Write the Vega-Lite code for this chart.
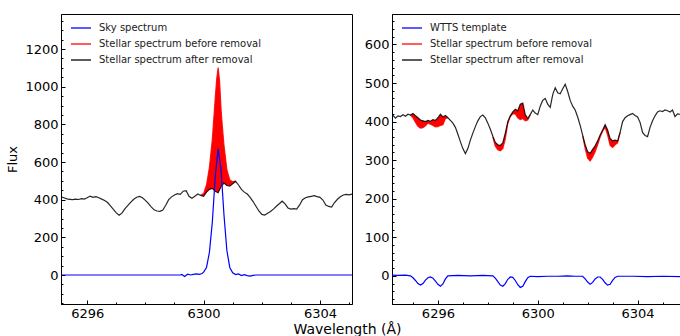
{
  "$schema": "https://vega.github.io/schema/vega-lite/v6.json",
  "padding": {"left": 6, "top": 13, "right": 1, "bottom": 0},
  "autosize": {"type": "pad"},
  "background": "white",
  "config": {
    "font": "DejaVu Sans",
    "view": {"stroke": "black", "strokeWidth": 1},
    "axis": {"grid": false, "domainColor": "black", "tickColor": "black", "labelFontSize": 13, "titleFontSize": 13, "labelColor": "black", "titleColor": "black", "titleFontWeight": "normal", "labelFont": "DejaVu Sans", "titleFont": "DejaVu Sans", "labelFlush": false, "labelOverlap": false, "tickWidth": 1},
    "legend": {"orient": "none", "legendX": 9, "legendY": 3, "symbolType": "stroke", "symbolSize": 400, "symbolStrokeWidth": 1.5, "labelFontSize": 10, "labelFont": "DejaVu Sans", "labelColor": "#222", "labelOffset": 7, "labelLimit": 400, "rowPadding": -1.5, "padding": 0, "title": null}
  },
  "title": {"text": "Wavelength (Å)", "orient": "bottom", "anchor": "middle", "fontSize": 14, "fontWeight": "normal", "offset": 0, "dx": 4, "font": "DejaVu Sans", "color": "black"},
  "datasets": {
    "star": [
      {"wl": 6294.1, "f": 424}, {"wl": 6294.2, "f": 416}, {"wl": 6294.3, "f": 409}, {"wl": 6294.4, "f": 415}, {"wl": 6294.5, "f": 413},
      {"wl": 6294.6, "f": 418}, {"wl": 6294.7, "f": 414}, {"wl": 6294.8, "f": 419}, {"wl": 6294.9, "f": 417}, {"wl": 6295.0, "f": 421},
      {"wl": 6295.1, "f": 415}, {"wl": 6295.2, "f": 410}, {"wl": 6295.3, "f": 404}, {"wl": 6295.4, "f": 402}, {"wl": 6295.5, "f": 400},
      {"wl": 6295.6, "f": 403}, {"wl": 6295.7, "f": 401}, {"wl": 6295.8, "f": 405}, {"wl": 6295.9, "f": 403}, {"wl": 6296.0, "f": 410},
      {"wl": 6296.1, "f": 419}, {"wl": 6296.2, "f": 412}, {"wl": 6296.3, "f": 416}, {"wl": 6296.4, "f": 410}, {"wl": 6296.5, "f": 403},
      {"wl": 6296.6, "f": 396}, {"wl": 6296.7, "f": 385}, {"wl": 6296.8, "f": 367}, {"wl": 6296.9, "f": 348}, {"wl": 6297.0, "f": 330},
      {"wl": 6297.1, "f": 317}, {"wl": 6297.2, "f": 330}, {"wl": 6297.3, "f": 352}, {"wl": 6297.4, "f": 370}, {"wl": 6297.5, "f": 387},
      {"wl": 6297.6, "f": 402}, {"wl": 6297.7, "f": 413}, {"wl": 6297.8, "f": 417}, {"wl": 6297.9, "f": 410}, {"wl": 6298.0, "f": 396},
      {"wl": 6298.1, "f": 380}, {"wl": 6298.2, "f": 362}, {"wl": 6298.3, "f": 346}, {"wl": 6298.4, "f": 340}, {"wl": 6298.5, "f": 338},
      {"wl": 6298.6, "f": 345}, {"wl": 6298.7, "f": 370}, {"wl": 6298.8, "f": 400}, {"wl": 6298.9, "f": 415}, {"wl": 6299.0, "f": 425},
      {"wl": 6299.1, "f": 432}, {"wl": 6299.2, "f": 428}, {"wl": 6299.3, "f": 445}, {"wl": 6299.4, "f": 448}, {"wl": 6299.5, "f": 418},
      {"wl": 6299.6, "f": 408}, {"wl": 6299.7, "f": 418}, {"wl": 6299.8, "f": 430}, {"wl": 6299.9, "f": 422}, {"wl": 6300.0, "f": 418},
      {"wl": 6300.1, "f": 440}, {"wl": 6300.2, "f": 455}, {"wl": 6300.3, "f": 460}, {"wl": 6300.4, "f": 445}, {"wl": 6300.5, "f": 437},
      {"wl": 6300.6, "f": 470}, {"wl": 6300.7, "f": 488}, {"wl": 6300.8, "f": 475}, {"wl": 6300.9, "f": 472}, {"wl": 6301.0, "f": 485},
      {"wl": 6301.1, "f": 497}, {"wl": 6301.2, "f": 478}, {"wl": 6301.3, "f": 455}, {"wl": 6301.4, "f": 440}, {"wl": 6301.5, "f": 430},
      {"wl": 6301.6, "f": 412}, {"wl": 6301.7, "f": 390}, {"wl": 6301.8, "f": 365}, {"wl": 6301.9, "f": 340}, {"wl": 6302.0, "f": 322},
      {"wl": 6302.1, "f": 318}, {"wl": 6302.2, "f": 328}, {"wl": 6302.3, "f": 337}, {"wl": 6302.4, "f": 350}, {"wl": 6302.5, "f": 365},
      {"wl": 6302.6, "f": 378}, {"wl": 6302.7, "f": 392}, {"wl": 6302.8, "f": 378}, {"wl": 6302.9, "f": 356}, {"wl": 6303.0, "f": 350},
      {"wl": 6303.1, "f": 352}, {"wl": 6303.2, "f": 350}, {"wl": 6303.3, "f": 372}, {"wl": 6303.4, "f": 400}, {"wl": 6303.5, "f": 410},
      {"wl": 6303.6, "f": 415}, {"wl": 6303.7, "f": 418}, {"wl": 6303.8, "f": 421}, {"wl": 6303.9, "f": 416}, {"wl": 6304.0, "f": 412},
      {"wl": 6304.1, "f": 398}, {"wl": 6304.2, "f": 372}, {"wl": 6304.3, "f": 364}, {"wl": 6304.4, "f": 361}, {"wl": 6304.5, "f": 385},
      {"wl": 6304.6, "f": 402}, {"wl": 6304.7, "f": 415}, {"wl": 6304.8, "f": 425}, {"wl": 6304.9, "f": 428}, {"wl": 6305.0, "f": 426},
      {"wl": 6305.1, "f": 430}, {"wl": 6305.2, "f": 428}, {"wl": 6305.3, "f": 425}, {"wl": 6305.4, "f": 430}, {"wl": 6305.5, "f": 413},
      {"wl": 6305.6, "f": 420}, {"wl": 6305.7, "f": 419}
    ],
    "sky": [
      {"wl": 6294.1, "f": 0}, {"wl": 6299.2, "f": 0}, {"wl": 6299.25, "f": 3}, {"wl": 6299.35, "f": -8}, {"wl": 6299.45, "f": 4},
      {"wl": 6299.55, "f": 0}, {"wl": 6299.65, "f": 3}, {"wl": 6299.75, "f": 6}, {"wl": 6299.85, "f": 3}, {"wl": 6299.95, "f": 8},
      {"wl": 6300.0, "f": 15}, {"wl": 6300.1, "f": 40}, {"wl": 6300.2, "f": 120}, {"wl": 6300.3, "f": 280}, {"wl": 6300.4, "f": 520},
      {"wl": 6300.5, "f": 670}, {"wl": 6300.6, "f": 560}, {"wl": 6300.7, "f": 320}, {"wl": 6300.8, "f": 130}, {"wl": 6300.9, "f": 40},
      {"wl": 6301.0, "f": 12}, {"wl": 6301.1, "f": 2}, {"wl": 6301.2, "f": 6}, {"wl": 6301.3, "f": -3}, {"wl": 6301.4, "f": 2},
      {"wl": 6301.5, "f": -3}, {"wl": 6301.6, "f": -6}, {"wl": 6301.7, "f": -2}, {"wl": 6301.8, "f": 0}, {"wl": 6305.7, "f": 0}
    ],
    "wtts": [
      {"wl": 6294.1, "f": 2}, {"wl": 6294.4, "f": 1}, {"wl": 6294.7, "f": 2}, {"wl": 6294.9, "f": 0}, {"wl": 6295.0, "f": -5},
      {"wl": 6295.1, "f": -12}, {"wl": 6295.2, "f": -20}, {"wl": 6295.3, "f": -24}, {"wl": 6295.4, "f": -20}, {"wl": 6295.5, "f": -11},
      {"wl": 6295.6, "f": -5}, {"wl": 6295.7, "f": -3}, {"wl": 6295.8, "f": -6}, {"wl": 6295.9, "f": -14}, {"wl": 6296.0, "f": -22},
      {"wl": 6296.1, "f": -27}, {"wl": 6296.2, "f": -21}, {"wl": 6296.3, "f": -8}, {"wl": 6296.4, "f": 0}, {"wl": 6296.8, "f": 1},
      {"wl": 6297.3, "f": 0}, {"wl": 6297.8, "f": 1}, {"wl": 6298.2, "f": 0}, {"wl": 6298.3, "f": -6}, {"wl": 6298.4, "f": -15},
      {"wl": 6298.5, "f": -24}, {"wl": 6298.6, "f": -27}, {"wl": 6298.7, "f": -20}, {"wl": 6298.8, "f": -9}, {"wl": 6298.9, "f": -3},
      {"wl": 6299.0, "f": -4}, {"wl": 6299.1, "f": -12}, {"wl": 6299.2, "f": -23}, {"wl": 6299.3, "f": -30}, {"wl": 6299.4, "f": -27},
      {"wl": 6299.5, "f": -15}, {"wl": 6299.6, "f": -5}, {"wl": 6299.7, "f": -1}, {"wl": 6300.0, "f": -2}, {"wl": 6300.4, "f": -1},
      {"wl": 6300.8, "f": -1}, {"wl": 6301.2, "f": 0}, {"wl": 6301.5, "f": -1}, {"wl": 6301.8, "f": -1}, {"wl": 6301.9, "f": -8},
      {"wl": 6302.0, "f": -16}, {"wl": 6302.1, "f": -22}, {"wl": 6302.2, "f": -17}, {"wl": 6302.3, "f": -8}, {"wl": 6302.4, "f": -3},
      {"wl": 6302.5, "f": -3}, {"wl": 6302.6, "f": -9}, {"wl": 6302.7, "f": -18}, {"wl": 6302.8, "f": -24}, {"wl": 6302.9, "f": -22},
      {"wl": 6303.0, "f": -12}, {"wl": 6303.1, "f": -4}, {"wl": 6303.2, "f": -1}, {"wl": 6303.8, "f": -1}, {"wl": 6304.4, "f": -2},
      {"wl": 6305.0, "f": -1}, {"wl": 6305.7, "f": -2}
    ],
    "redL": [
      {"wl": 6299.9, "lo": 422, "hi": 424}, {"wl": 6300.0, "lo": 418, "hi": 432}, {"wl": 6300.1, "lo": 440, "hi": 478},
      {"wl": 6300.2, "lo": 455, "hi": 572}, {"wl": 6300.3, "lo": 460, "hi": 720}, {"wl": 6300.4, "lo": 445, "hi": 940},
      {"wl": 6300.45, "lo": 441, "hi": 1040}, {"wl": 6300.5, "lo": 437, "hi": 1102}, {"wl": 6300.55, "lo": 452, "hi": 1030},
      {"wl": 6300.6, "lo": 470, "hi": 880}, {"wl": 6300.65, "lo": 480, "hi": 780}, {"wl": 6300.7, "lo": 488, "hi": 690},
      {"wl": 6300.8, "lo": 475, "hi": 560}, {"wl": 6300.9, "lo": 472, "hi": 505}, {"wl": 6301.0, "lo": 485, "hi": 495},
      {"wl": 6301.1, "lo": 497, "hi": 500}
    ],
    "redR": [
      {"seg": 1, "wl": 6294.9, "lo": 417, "hi": 417}, {"seg": 1, "wl": 6295.0, "lo": 410, "hi": 421}, {"seg": 1, "wl": 6295.1, "lo": 398, "hi": 415},
      {"seg": 1, "wl": 6295.2, "lo": 388, "hi": 410}, {"seg": 1, "wl": 6295.3, "lo": 383, "hi": 404}, {"seg": 1, "wl": 6295.4, "lo": 384, "hi": 402},
      {"seg": 1, "wl": 6295.5, "lo": 389, "hi": 400}, {"seg": 1, "wl": 6295.6, "lo": 396, "hi": 403}, {"seg": 1, "wl": 6295.7, "lo": 393, "hi": 401},
      {"seg": 1, "wl": 6295.8, "lo": 390, "hi": 405}, {"seg": 1, "wl": 6295.9, "lo": 386, "hi": 403}, {"seg": 1, "wl": 6296.0, "lo": 387, "hi": 410},
      {"seg": 1, "wl": 6296.1, "lo": 390, "hi": 419}, {"seg": 1, "wl": 6296.2, "lo": 392, "hi": 412}, {"seg": 1, "wl": 6296.3, "lo": 408, "hi": 416},
      {"seg": 1, "wl": 6296.4, "lo": 410, "hi": 410},
      {"seg": 2, "wl": 6298.2, "lo": 360, "hi": 362}, {"seg": 2, "wl": 6298.3, "lo": 336, "hi": 346}, {"seg": 2, "wl": 6298.4, "lo": 327, "hi": 340},
      {"seg": 2, "wl": 6298.5, "lo": 324, "hi": 338}, {"seg": 2, "wl": 6298.6, "lo": 330, "hi": 345}, {"seg": 2, "wl": 6298.7, "lo": 355, "hi": 370},
      {"seg": 2, "wl": 6298.8, "lo": 395, "hi": 400}, {"seg": 2, "wl": 6298.9, "lo": 413, "hi": 415}, {"seg": 2, "wl": 6299.0, "lo": 420, "hi": 425},
      {"seg": 2, "wl": 6299.1, "lo": 420, "hi": 432}, {"seg": 2, "wl": 6299.2, "lo": 410, "hi": 428}, {"seg": 2, "wl": 6299.3, "lo": 405, "hi": 445},
      {"seg": 2, "wl": 6299.4, "lo": 408, "hi": 448}, {"seg": 2, "wl": 6299.5, "lo": 402, "hi": 418}, {"seg": 2, "wl": 6299.6, "lo": 404, "hi": 408},
      {"seg": 2, "wl": 6299.7, "lo": 418, "hi": 418},
      {"seg": 3, "wl": 6301.8, "lo": 362, "hi": 365}, {"seg": 3, "wl": 6301.9, "lo": 330, "hi": 340}, {"seg": 3, "wl": 6302.0, "lo": 305, "hi": 322},
      {"seg": 3, "wl": 6302.1, "lo": 298, "hi": 318}, {"seg": 3, "wl": 6302.2, "lo": 308, "hi": 328}, {"seg": 3, "wl": 6302.3, "lo": 322, "hi": 337},
      {"seg": 3, "wl": 6302.4, "lo": 340, "hi": 350}, {"seg": 3, "wl": 6302.5, "lo": 360, "hi": 365}, {"seg": 3, "wl": 6302.6, "lo": 375, "hi": 378},
      {"seg": 3, "wl": 6302.7, "lo": 385, "hi": 392}, {"seg": 3, "wl": 6302.8, "lo": 365, "hi": 378}, {"seg": 3, "wl": 6302.9, "lo": 338, "hi": 356},
      {"seg": 3, "wl": 6303.0, "lo": 333, "hi": 350}, {"seg": 3, "wl": 6303.1, "lo": 340, "hi": 352}, {"seg": 3, "wl": 6303.2, "lo": 345, "hi": 350},
      {"seg": 3, "wl": 6303.3, "lo": 372, "hi": 372}
    ]
  },
  "spacing": 10,
  "resolve": {"scale": {"color": "independent"}, "legend": {"color": "independent"}},
  "hconcat": [
    {
      "width": 291,
      "height": 290,
      "resolve": {"axis": {"y": "independent"}, "scale": {"y": "shared"}},
      "encoding": {
        "x": {"field": "wl", "type": "quantitative", "title": null,
          "scale": {"domain": [6295.1, 6305.1], "nice": false, "zero": false},
          "axis": {"values": [6295, 6296, 6297, 6298, 6299, 6300, 6301, 6302, 6303, 6304, 6305], "format": "d",
            "labelExpr": "datum.value % 4 === 0 ? datum.label : ''", "labelOverlap": false,
            "tickSize": {"condition": {"test": "datum.value % 4 === 0", "value": -4}, "value": -2}, "labelPadding": 7}}
      },
      "layer": [
        {"data": {"name": "redL"}, "mark": {"type": "area", "color": "#ff0000", "clip": true},
          "encoding": {"y": {"field": "hi", "type": "quantitative", "title": "Flux",
            "scale": {"domain": [-154, 1386], "nice": false, "zero": false},
            "axis": {"orient": "left", "values": [0, 200, 400, 600, 800, 1000, 1200], "format": "d", "labelOverlap": false,
              "tickSize": -4, "labelPadding": 7, "titlePadding": 5}},
            "y2": {"field": "lo"}}},
        {"data": {"name": "redL"}, "mark": {"type": "line", "strokeWidth": 1.2, "clip": true, "opacity": 0.85},
          "encoding": {"y": {"field": "hi", "type": "quantitative",
            "axis": {"orient": "left", "title": null, "labels": false, "domain": false, "tickSize": -2,
              "values": [-150, -100, -50, 50, 100, 150, 250, 300, 350, 450, 500, 550, 650, 700, 750, 850, 900, 950, 1050, 1100, 1150, 1250, 1300, 1350]}},
            "color": {"datum": "Stellar spectrum before removal", "type": "nominal", "scale": {"domain": ["Sky spectrum", "Stellar spectrum before removal", "Stellar spectrum after removal"], "range": ["#0000ff", "#ff0000", "#000000"]}}}},
        {"data": {"name": "star"}, "mark": {"type": "line", "strokeWidth": 1.2, "clip": true, "opacity": 0.85},
          "encoding": {"y": {"field": "f", "type": "quantitative", "axis": null}, "color": {"datum": "Stellar spectrum after removal", "type": "nominal"}}},
        {"data": {"name": "sky"}, "mark": {"type": "line", "strokeWidth": 1.2, "clip": true},
          "encoding": {"y": {"field": "f", "type": "quantitative", "axis": null},
            "color": {"datum": "Sky spectrum", "type": "nominal"}}}
      ]
    },
    {
      "width": 288,
      "height": 290,
      "resolve": {"axis": {"y": "independent"}, "scale": {"y": "shared"}},
      "encoding": {
        "x": {"field": "wl", "type": "quantitative", "title": null,
          "scale": {"domain": [6294.16, 6305.7], "nice": false, "zero": false},
          "axis": {"values": [6295, 6296, 6297, 6298, 6299, 6300, 6301, 6302, 6303, 6304, 6305], "format": "d",
            "labelExpr": "datum.value % 4 === 0 ? datum.label : ''", "labelOverlap": false,
            "tickSize": {"condition": {"test": "datum.value % 4 === 0", "value": -4}, "value": -2}, "labelPadding": 7}}
      },
      "layer": [
        {"data": {"name": "redR"}, "mark": {"type": "area", "color": "#ff0000", "clip": true},
          "encoding": {"y": {"field": "lo", "type": "quantitative", "title": null,
            "scale": {"domain": [-73, 679], "nice": false, "zero": false},
            "axis": {"orient": "left", "values": [0, 100, 200, 300, 400, 500, 600], "format": "d", "labelOverlap": false,
              "tickSize": -4, "labelPadding": 7}},
            "y2": {"field": "hi"}, "detail": {"field": "seg"}}},
        {"data": {"name": "redR"}, "mark": {"type": "line", "strokeWidth": 1.2, "clip": true, "opacity": 0.85},
          "encoding": {"y": {"field": "lo", "type": "quantitative",
            "axis": {"orient": "left", "title": null, "labels": false, "domain": false, "tickSize": -2,
              "values": [-60, -40, -20, 20, 40, 60, 80, 120, 140, 160, 180, 220, 240, 260, 280, 320, 340, 360, 380, 420, 440, 460, 480, 520, 540, 560, 580, 620, 640, 660]}},
            "detail": {"field": "seg"},
            "color": {"datum": "Stellar spectrum before removal", "type": "nominal", "scale": {"domain": ["WTTS template", "Stellar spectrum before removal", "Stellar spectrum after removal"], "range": ["#0000ff", "#ff0000", "#000000"]}}}},
        {"data": {"name": "star"}, "mark": {"type": "line", "strokeWidth": 1.2, "clip": true, "opacity": 0.85},
          "encoding": {"y": {"field": "f", "type": "quantitative", "axis": null}, "color": {"datum": "Stellar spectrum after removal", "type": "nominal"}}},
        {"data": {"name": "wtts"}, "mark": {"type": "line", "strokeWidth": 1.2, "clip": true},
          "encoding": {"y": {"field": "f", "type": "quantitative", "axis": null},
            "color": {"datum": "WTTS template", "type": "nominal"}}}
      ]
    }
  ]
}
